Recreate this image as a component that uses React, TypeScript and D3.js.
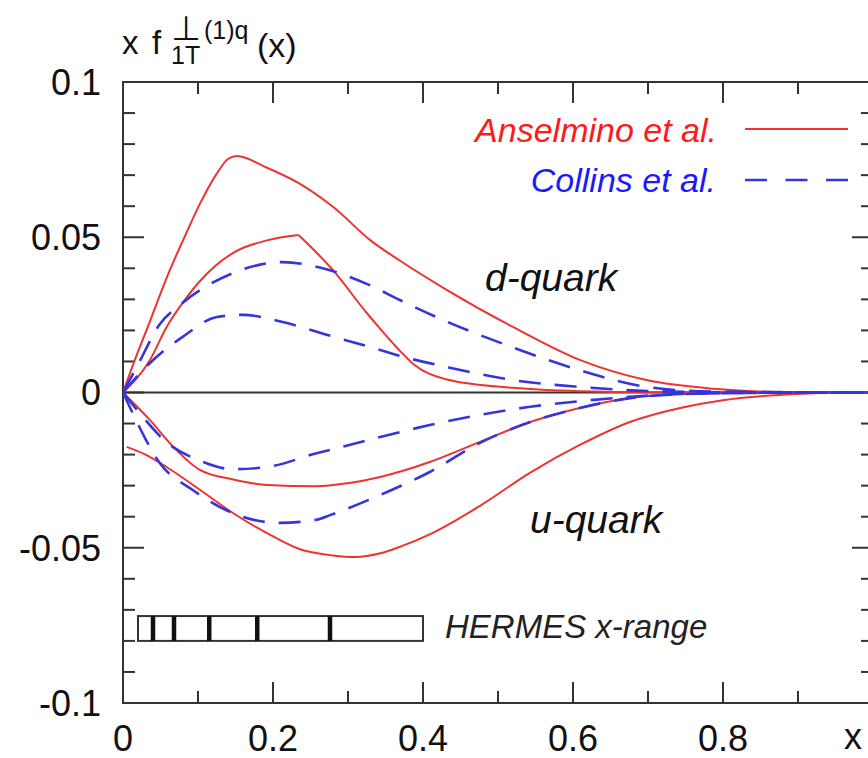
import React from "react";
import * as d3 from "d3";

type P = [number, number];

// Anselmino et al. (solid red)
const ansD1: P[] = [[0,0],[0.012,0.008],[0.036,0.023],[0.06,0.038],[0.08,0.049],[0.103,0.061],[0.125,0.0705],[0.14,0.0752],[0.152,0.0762],[0.19,0.0726],[0.236,0.0672],[0.28,0.0598],[0.33,0.049],[0.369,0.0425],[0.432,0.033],[0.52,0.0211],[0.609,0.0105],[0.698,0.004],[0.787,0.0012],[0.87,0.0002],[1,0]];
const ansD2Rise: P[] = [[0,0],[0.036,0.0105],[0.058,0.021],[0.08,0.029],[0.103,0.036],[0.147,0.045],[0.192,0.049],[0.234,0.0507]];
const ansD2Fall: P[] = [[0.234,0.0507],[0.28,0.0394],[0.325,0.0256],[0.343,0.0205],[0.369,0.0135],[0.387,0.0092],[0.432,0.0042],[0.52,0.0015],[0.609,0.0004],[0.7,0.0001],[1,0]];
const ansU1: P[] = [[0.005,-0.0175],[0.03,-0.02],[0.058,-0.024],[0.103,-0.0314],[0.147,-0.0389],[0.192,-0.0453],[0.236,-0.0505],[0.28,-0.0525],[0.31,-0.053],[0.343,-0.0518],[0.369,-0.0497],[0.409,-0.0457],[0.476,-0.0365],[0.543,-0.0258],[0.609,-0.0169],[0.676,-0.0095],[0.743,-0.005],[0.8,-0.0025],[0.863,-0.001],[0.93,-0.0002],[1,0]];
const ansU2: P[] = [[0,0],[0.036,-0.0089],[0.067,-0.0175],[0.103,-0.025],[0.147,-0.028],[0.192,-0.0298],[0.258,-0.0302],[0.3,-0.0292],[0.343,-0.0272],[0.409,-0.0224],[0.476,-0.0159],[0.543,-0.0095],[0.609,-0.005],[0.676,-0.0018],[0.75,-0.0005],[0.85,-0.0001],[1,0]];

// Collins et al. (dashed blue)
const colD1: P[] = [[0,0],[0.02,0.009],[0.049,0.022],[0.075,0.028],[0.103,0.033],[0.147,0.0385],[0.213,0.042],[0.258,0.0405],[0.325,0.035],[0.369,0.0298],[0.432,0.0228],[0.52,0.0145],[0.609,0.0072],[0.698,0.0018],[0.787,0.0003],[1,0]];
const colD2: P[] = [[0,0],[0.036,0.0095],[0.08,0.018],[0.125,0.0243],[0.16,0.025],[0.213,0.0227],[0.28,0.018],[0.343,0.0137],[0.369,0.0118],[0.432,0.0082],[0.52,0.004],[0.609,0.0018],[0.698,0.0005],[0.8,0.0001],[1,0]];
const colU1: P[] = [[0,0],[0.02,-0.006],[0.058,-0.016],[0.103,-0.022],[0.147,-0.0247],[0.192,-0.024],[0.258,-0.0196],[0.276,-0.0185],[0.343,-0.0143],[0.409,-0.0105],[0.476,-0.0072],[0.543,-0.0046],[0.609,-0.0028],[0.676,-0.0014],[0.75,-0.0004],[0.85,-0.0001],[1,0]];
const colU2: P[] = [[0,0],[0.013,-0.0067],[0.049,-0.0227],[0.093,-0.0314],[0.147,-0.0389],[0.209,-0.042],[0.258,-0.041],[0.276,-0.0395],[0.343,-0.033],[0.409,-0.0256],[0.476,-0.0162],[0.543,-0.0095],[0.609,-0.005],[0.676,-0.0018],[0.75,-0.0005],[0.85,-0.0001],[1,0]];

const hermesBins: number[] = [0.04, 0.068, 0.115, 0.179, 0.276];
const hermesRange: number[] = [0.02, 0.4];
const hermesY: number[] = [-0.072, -0.08];

const yTickLabels: number[] = [0.1, 0.05, 0, -0.05, -0.1];
const xTickLabels: number[] = [0, 0.2, 0.4, 0.6, 0.8];

const W = 868, H = 758;
const RED = "#ee3333";
const BLUE = "#3535dd";
const AXIS = "#333";
const FONT = "'Liberation Sans', Arial, Helvetica, sans-serif";

export default function App() {
  const x = d3.scaleLinear().domain([0, 1]).range([123, 873]);
  const y = d3.scaleLinear().domain([-0.1, 0.1]).range([703, 82]);
  const line = d3.line<P>().x((d) => x(d[0])).y((d) => y(d[1])).curve(d3.curveMonotoneX);

  const fmt = (v: number) => (v === 0 ? "0" : String(v));

  const yMinor = d3.range(-10, 11).map((i) => i / 100);
  const xMinor = d3.range(0, 11).map((i) => i / 10);

  const redCurves = [ansD1, ansD2Rise, ansD2Fall, ansU1, ansU2];
  const blueCurves = [colD1, colD2, colU1, colU2];

  return (
    <svg width={W} height={H} style={{ position: "absolute", left: 0, top: 0, background: "#fff" }} fontFamily={FONT}>
      <defs>
        <clipPath id="plotclip">
          <rect x={x(0)} y={y(0.1)} width={x(1) - x(0)} height={y(-0.1) - y(0.1)} />
        </clipPath>
      </defs>
      <rect x={0} y={0} width={W} height={H} fill="#fff" />

      {/* ticks */}
      {yMinor.map((v, i) => {
        const major = Math.abs(Math.round(v * 100) % 5) === 0;
        const len = major ? 21 : 12;
        return (
          <g key={"yt" + i} stroke={AXIS} strokeWidth={2}>
            <line x1={x(0)} x2={x(0) + len} y1={y(v)} y2={y(v)} />
            <line x1={x(1)} x2={x(1) - len} y1={y(v)} y2={y(v)} />
          </g>
        );
      })}
      {xMinor.map((v, i) => {
        const major = i % 2 === 0;
        const len = major ? 21 : 12;
        return (
          <g key={"xt" + i} stroke={AXIS} strokeWidth={2}>
            <line x1={x(v)} x2={x(v)} y1={y(-0.1)} y2={y(-0.1) - len} />
            <line x1={x(v)} x2={x(v)} y1={y(0.1)} y2={y(0.1) + len} />
          </g>
        );
      })}

      {/* zero line */}
      <line x1={x(0)} x2={x(1)} y1={y(0)} y2={y(0)} stroke={AXIS} strokeWidth={2} />

      {/* frame */}
      <rect x={x(0)} y={y(0.1)} width={x(1) - x(0)} height={y(-0.1) - y(0.1)} fill="none" stroke={AXIS} strokeWidth={2} />

      {/* HERMES range */}
      <rect
        x={x(hermesRange[0])}
        y={y(hermesY[0])}
        width={x(hermesRange[1]) - x(hermesRange[0])}
        height={y(hermesY[1]) - y(hermesY[0])}
        fill="#fff"
        stroke={AXIS}
        strokeWidth={2}
      />
      {hermesBins.map((b, i) => (
        <line key={"hb" + i} x1={x(b)} x2={x(b)} y1={y(hermesY[0])} y2={y(hermesY[1])} stroke="#111" strokeWidth={4.5} />
      ))}
      <text x={445} y={638} fontSize={33} fontStyle="italic" fill="#222">HERMES x-range</text>

      {/* curves */}
      <g clipPath="url(#plotclip)" fill="none">
        {redCurves.map((c, i) => (
          <path key={"r" + i} d={line(c) || ""} stroke={RED} strokeWidth={2} strokeLinejoin="miter" />
        ))}
        {blueCurves.map((c, i) => (
          <path key={"b" + i} d={line(c) || ""} stroke={BLUE} strokeWidth={2.6} strokeDasharray="22 14" />
        ))}
      </g>

      {/* legend */}
      <text x={717} y={142} fontSize={34} fontStyle="italic" fill="#ff1a1a" textAnchor="end">Anselmino et al.</text>
      <line x1={745} x2={848} y1={129} y2={129} stroke={RED} strokeWidth={2.2} />
      <text x={716} y={192} fontSize={34} fontStyle="italic" fill="#1a1aff" textAnchor="end">Collins et al.</text>
      <line x1={745} x2={848} y1={180} y2={180} stroke={BLUE} strokeWidth={2.6} strokeDasharray="22 18.5" />

      <text x={485} y={291} fontSize={39} fontStyle="italic" fill="#111">d-quark</text>
      <text x={530} y={533} fontSize={39} fontStyle="italic" fill="#111">u-quark</text>

      {/* y tick labels */}
      {yTickLabels.map((v, i) => (
        <text key={"yl" + i} x={101} y={y(v)} dy="0.36em" fontSize={36} textAnchor="end" fill="#111">{fmt(v)}</text>
      ))}
      {/* x tick labels */}
      {xTickLabels.map((v, i) => (
        <text key={"xl" + i} x={x(v)} y={751} fontSize={36} textAnchor="middle" fill="#111">{fmt(v)}</text>
      ))}
      <text x={853} y={749} fontSize={36} textAnchor="middle" fill="#111">x</text>

      {/* y axis title */}
      <text x={122} y={54} fontSize={33} fill="#111">x</text>
      <text x={152} y={54} fontSize={33} fill="#111">f</text>
      <text x={186} y={40} fontSize={34} textAnchor="middle" fill="#111" fontFamily="'DejaVu Sans', sans-serif">⊥</text>
      <text x={171} y={64} fontSize={25} fill="#111">1T</text>
      <text x={204} y={39} fontSize={25} fill="#111">(1)q</text>
      <text x={257} y={57} fontSize={34} fill="#111">(x)</text>
    </svg>
  );
}
